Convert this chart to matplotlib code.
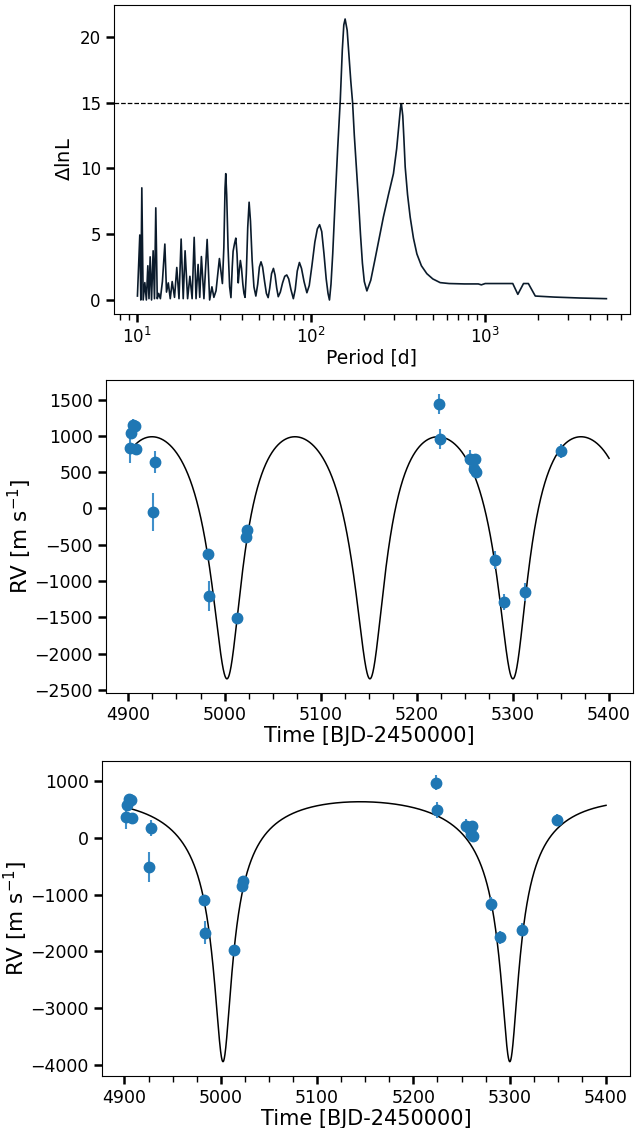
import numpy as np
import matplotlib
matplotlib.use('Agg')
import matplotlib.pyplot as plt
from matplotlib.ticker import MultipleLocator

# likelihood periodogram
period_d = [10.04, 10.36, 10.5, 10.64, 10.83, 11.07, 11.3, 11.52, 11.7, 11.88,
            12.1, 12.36, 12.58, 12.8, 13.05, 13.3, 13.6, 13.97, 14.43, 14.75,
            15.1, 15.5, 15.9, 16.4, 16.9, 17.4, 17.9, 18.4, 18.86, 19.5,
            20.1, 20.7, 21.27, 21.8, 22.4, 22.9, 23.4, 24.2, 25.25, 26.1,
            26.9, 27.6, 28.4, 29.7, 30.9, 31.5, 32.0, 32.3, 32.7, 33.3,
            34.0, 34.6, 35.2, 35.6, 36.3, 36.9, 37.5, 38.1, 38.6, 39.2,
            39.8, 40.5, 41.1, 41.7, 42.4, 43.2, 44.0, 44.8, 45.8, 46.9,
            48.1, 49.3, 50.4, 51.5, 52.6, 54.0, 55.3, 56.6, 57.8, 59.2,
            60.7, 62.0, 63.4, 64.7, 66.5, 68.5, 70.5, 72.4, 74.3, 76.5,
            79.0, 81.0, 83.2, 85.6, 88.0, 91.0, 94.5, 97.5, 101, 105,
            108.5, 111.8, 115, 118.5, 122, 125, 127.4, 130, 133, 137.4,
            142, 147, 151, 154, 156.7, 161, 165, 169, 173, 177,
            182, 187, 192, 197, 202, 209, 220, 232, 245, 260,
            278, 297, 310, 320, 326, 330, 336, 341, 347, 358,
            370.6, 387, 405, 430, 462, 500, 551, 620, 760, 913,
            950, 1000, 1440, 1540, 1660, 1770, 1940, 2500, 3500, 4970]
dlnl = [0.3, 4.94, 0.0, 8.52, 0.0, 1.32, 0.0, 2.6, 0.1, 3.28,
        0.0, 3.74, 0.1, 7.0, 0.1, 0.5, 0.1, 1.4, 4.25, 0.6,
        1.3, 0.1, 1.4, 0.2, 2.47, 0.1, 4.63, 0.1, 3.74, 0.1,
        1.8, 0.1, 4.76, 0.1, 2.7, 0.2, 3.3, 0.1, 4.6, 0.0,
        1.0, 0.2, 0.7, 3.15, 1.25, 4.0, 8.5, 9.6, 8.0, 4.0,
        1.0, 0.18, 2.5, 3.7, 4.3, 4.7, 3.5, 1.3, 2.2, 3.0,
        2.4, 1.2, 0.5, 0.2, 2.0, 5.5, 7.43, 6.0, 3.0, 1.0,
        0.3, 1.2, 2.5, 2.9, 2.5, 1.4, 0.5, 0.18, 0.9, 2.0,
        2.4, 1.9, 0.9, 0.25, 0.6, 1.3, 1.8, 1.9, 1.6, 0.8,
        0.1, 0.8, 2.2, 2.85, 2.4, 1.4, 0.55, 1.1, 2.6, 4.4,
        5.4, 5.72, 5.2, 3.5, 1.6, 0.5, 0.0, 1.2, 3.5, 7.6,
        11.5, 15.2, 19.0, 20.9, 21.35, 20.5, 18.5, 16.6, 15.0, 12.5,
        10.0, 7.6, 5.0, 2.8, 1.4, 0.69, 1.5, 3.0, 4.6, 6.3,
        8.0, 9.6, 11.5, 13.5, 14.6, 14.9, 14.0, 12.3, 10.1, 8.0,
        6.3, 4.7, 3.5, 2.6, 2.0, 1.6, 1.32, 1.25, 1.22, 1.22,
        1.15, 1.25, 1.25, 0.43, 1.25, 1.25, 0.3, 0.22, 0.15, 0.1]
threshold = 15

# radial velocities
t_obs = [4901.6, 4902.6, 4904.6, 4906.6, 4907.6, 4927.2, 4925.6, 4982.4,
         4983.4, 5013.4, 5022.4, 5023.5, 5223.6, 5224.4, 5255.1, 5261.0,
         5259.9, 5262.0, 5281.0, 5290.3, 5312.8, 5349.6]
rv_obs = [836, 1042, 1147, 1140, 822, 643, -49, -621,
          -1208, -1511, -388, -292, 1440, 959, 675, 684,
          537, 500, -704, -1291, -1153, 789]
rv_err = [216, 60, 92, 60, 60, 148, 264, 50,
          206, 40, 50, 50, 133, 137, 128, 60,
          60, 60, 124, 110, 120, 92]
rv_shift = 465  # offset between the two fits

# orbital parameters: P, K, e, omega [deg], Tp, gamma
orbit1 = (148.75, 1667, 0.40, 185, 5003.3, -15)
orbit2 = (297.8, 2295, 0.70, 182, 5002.5, -49)
t_end = 5400


def kepler_rv(t, P, K, e, w, tp, gamma):
    w = np.radians(w)
    M = 2 * np.pi * (t - tp) / P
    E = M + e * np.sin(M)
    for i in range(100):
        E = E - (E - e * np.sin(E) - M) / (1 - e * np.cos(E))
    nu = 2 * np.arctan2(np.sqrt(1 + e) * np.sin(E / 2), np.sqrt(1 - e) * np.cos(E / 2))
    return K * (np.cos(nu + w) + e * np.cos(w)) + gamma


plt.rcParams['font.family'] = 'DejaVu Sans'

fig = plt.figure(figsize=(6.44, 11.28), dpi=100)
ax1 = fig.add_axes([0.177, 0.7216, 0.801, 0.274])
ax2 = fig.add_axes([0.1646, 0.3856, 0.8183, 0.2775])
ax3 = fig.add_axes([0.1584, 0.0461, 0.8199, 0.2793])

ax1.plot(period_d, dlnl, color='#0b1b2b', lw=1.2)
ax1.axhline(threshold, color='k', ls='--', lw=0.9)
ax1.set_xscale('log')
ax1.set_xlabel('Period [d]', fontsize=13.5, labelpad=1)
ax1.set_ylabel(r'$\Delta$lnL', fontsize=14)
ax1.tick_params(labelsize=12)

tt = np.linspace(t_obs[0], t_end, 3000)
t_arr = np.array(t_obs)
rv_arr = np.array(rv_obs)

ax2.plot(tt, kepler_rv(tt, *orbit1), color='k', lw=1.1, zorder=1)
ax2.errorbar(t_arr, rv_arr, yerr=rv_err, fmt='o', ms=7.5, color='#1f77b4',
             ecolor='#3f8fca', elinewidth=1.5, zorder=2)
ax2.yaxis.set_major_locator(MultipleLocator(500))

ax3.plot(tt, kepler_rv(tt, *orbit2), color='k', lw=1.1, zorder=1)
ax3.errorbar(t_arr, rv_arr - rv_shift, yerr=rv_err, fmt='o', ms=7.5, color='#1f77b4',
             ecolor='#3f8fca', elinewidth=1.5, zorder=2)
ax3.yaxis.set_major_locator(MultipleLocator(1000))

for ax in (ax2, ax3):
    ax.set_xlabel('Time [BJD-2450000]', fontsize=15, labelpad=1)
    ax.set_ylabel(r'RV [m s$^{-1}$]', fontsize=15.5, labelpad=0)
    ax.tick_params(labelsize=12.5)
    ax.xaxis.set_major_locator(MultipleLocator(100))
    ax.xaxis.set_minor_locator(MultipleLocator(25))

for ax in (ax1, ax2, ax3):
    ax.tick_params(which='major', length=6, width=1.8)
    ax.tick_params(which='minor', length=4, width=1.0)

fig.savefig('out.png', dpi=100)
